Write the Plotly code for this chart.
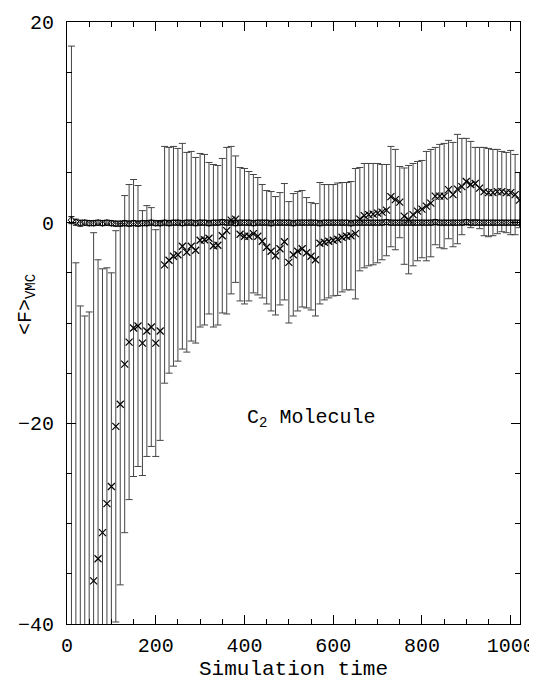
import plotly.graph_objects as go

# Simulation time of each sample
sim_time = [10, 20, 30, 40, 50, 60, 70, 80, 90, 100,
            110, 120, 130, 140, 150, 160, 170, 180, 190, 200,
            210, 220, 230, 240, 250, 260, 270, 280, 290, 300,
            310, 320, 330, 340, 350, 360, 370, 380, 390, 400,
            410, 420, 430, 440, 450, 460, 470, 480, 490, 500,
            510, 520, 530, 540, 550, 560, 570, 580, 590, 600,
            610, 620, 630, 640, 650, 660, 670, 680, 690, 700,
            710, 720, 730, 740, 750, 760, 770, 780, 790, 800,
            810, 820, 830, 840, 850, 860, 870, 880, 890, 900,
            910, 920, 930, 940, 950, 960, 970, 980, 990, 1000,
            1010, 1020]

# <F>_VMC without correction (crosses)
force_raw = [-60, -55, -50, -46, -42, -35.7, -33.5, -30.9, -28.0, -26.3,
             -20.3, -18.1, -14.1, -11.9, -10.5, -10.3, -12.0, -10.8, -10.4, -12.0,
             -10.8, -4.2, -3.75, -3.35, -3.2, -2.35, -2.95, -2.35, -2.75, -1.75,
             -1.7, -1.55, -2.3, -2.25, -1.3, -0.8, 0.25, 0.35, -1.15, -1.35,
             -1.35, -1.1, -1.35, -1.85, -2.45, -2.85, -3.3, -2.6, -1.9, -3.95,
             -3.2, -2.85, -2.6, -3.0, -3.35, -3.7, -2.05, -1.95, -1.85, -1.75,
             -1.65, -1.45, -1.35, -1.3, -1.1, 0.35, 0.7, 0.8, 0.85, 0.95,
             1.05, 1.25, 2.6, 2.3, 2.05, 0.65, 0.3, 0.8, 1.15, 1.35,
             1.65, 1.95, 2.65, 2.65, 2.65, 3.3, 2.8, 3.35, 3.6, 4.1,
             3.8, 3.9, 3.45, 3.1, 3.0, 3.0, 3.1, 3.1, 3.0, 3.0,
             2.8, 2.25]

force_raw_err = [77.6, 51.0, 41.7, 36.7, 33.1, 34.7, 29.8, 26.3, 23.5, 21.3,
                 19.5, 18.0, 16.8, 15.7, 14.8, 14.0, 13.2, 12.5, 11.9, 11.3,
                 10.9, 11.8, 11.25, 10.95, 10.6, 10.25, 9.95, 9.45, 9.25, 8.65,
                 8.5, 7.55, 8.1, 7.95, 7.7, 8.3, 7.35, 6.3, 6.65, 6.75,
                 6.45, 5.9, 5.85, 5.65, 5.65, 5.95, 5.9, 5.6, 5.8, 6.05,
                 6.1, 5.95, 5.8, 5.5, 5.35, 5.6, 6.05, 5.75, 5.65, 5.55,
                 5.6, 5.45, 5.35, 5.4, 6.5, 5.15, 5.2, 5.1, 5.05, 4.95,
                 4.75, 4.55, 5.0, 5.0, 3.55, 4.8, 5.4, 5.1, 4.95, 4.85,
                 5.45, 5.35, 4.85, 5.15, 5.25, 4.9, 5.2, 5.45, 4.8, 4.3,
                 4.3, 3.6, 4.05, 4.4, 4.4, 4.3, 4.2, 4.0, 4.0, 4.2,
                 4.0, 2.75]

# <F>_VMC with correction (diamonds near zero)
force_corr = [0.25, 0.05, -0.05, 0.0, -0.05, -0.05, 0.0, -0.05, 0.0, -0.05,
              -0.1, -0.1, -0.05, -0.1, -0.05, -0.1, -0.05, -0.05, 0.0, -0.05,
              -0.05, 0.0, -0.05, 0.0, 0.0, -0.05, 0.0, 0.0, -0.05, 0.0,
              0.0, -0.05, 0.0, 0.0, 0.05, 0.0, 0.0, -0.05, 0.0, 0.0,
              0.0, -0.05, 0.0, 0.0, 0.0, -0.05, 0.0, 0.0, 0.0, 0.0,
              -0.05, 0.0, 0.0, 0.0, 0.0, 0.0, -0.05, 0.0, 0.0, 0.0,
              0.0, 0.0, 0.0, -0.05, 0.0, 0.0, 0.0, 0.0, 0.0, 0.0,
              0.0, 0.05, 0.0, 0.0, 0.0, 0.0, 0.0, 0.0, 0.0, 0.0,
              0.0, 0.0, 0.05, 0.0, 0.0, 0.0, 0.0, 0.0, 0.0, 0.05,
              0.0, 0.0, 0.0, 0.0, 0.0, 0.0, 0.0, 0.0, 0.0, 0.0,
              0.0, 0.0]

force_corr_err = [0.35, 0.3, 0.3, 0.25, 0.25, 0.25, 0.25, 0.25, 0.25, 0.25,
                  0.25, 0.25, 0.25, 0.25, 0.25, 0.25, 0.25, 0.25, 0.25, 0.25,
                  0.25, 0.25, 0.25, 0.25, 0.25, 0.25, 0.25, 0.25, 0.25, 0.25,
                  0.25, 0.25, 0.25, 0.25, 0.25, 0.25, 0.25, 0.25, 0.25, 0.25,
                  0.25, 0.25, 0.25, 0.25, 0.25, 0.25, 0.25, 0.25, 0.25, 0.25,
                  0.25, 0.25, 0.25, 0.25, 0.25, 0.25, 0.25, 0.25, 0.25, 0.25,
                  0.25, 0.25, 0.25, 0.25, 0.25, 0.25, 0.25, 0.25, 0.25, 0.25,
                  0.25, 0.25, 0.25, 0.25, 0.25, 0.25, 0.25, 0.25, 0.25, 0.25,
                  0.25, 0.25, 0.25, 0.25, 0.25, 0.25, 0.25, 0.25, 0.25, 0.25,
                  0.25, 0.25, 0.25, 0.25, 0.25, 0.25, 0.25, 0.25, 0.25, 0.25,
                  0.25, 0.25]

x_ticks = [0, 200, 400, 600, 800, 1000]
y_ticks = [-40, -20, 0, 20]

FONT = "Liberation Mono"

fig = go.Figure()

fig.add_trace(go.Scatter(
    x=sim_time, y=force_raw, mode="markers",
    marker=dict(symbol="x-thin-open", size=7, color="black",
                line=dict(width=1.2, color="black")),
    error_y=dict(type="data", array=force_raw_err, visible=True,
                 color="#444444", thickness=1, width=3.5),
    cliponaxis=True, showlegend=False,
))

fig.add_trace(go.Scatter(
    x=sim_time, y=force_corr, mode="markers",
    marker=dict(symbol="diamond-open", size=5, color="black",
                line=dict(width=1, color="black")),
    error_y=dict(type="data", array=force_corr_err, visible=True,
                 color="black", thickness=1, width=3),
    showlegend=False,
))

axis_common = dict(
    showline=True, linecolor="black", linewidth=1, mirror="ticks",
    ticks="inside", ticklen=9, tickwidth=1, tickcolor="black",
    showgrid=False, zeroline=False, automargin=False,
    tickfont=dict(family=FONT, size=20, color="black"),
)

fig.update_xaxes(
    range=[0, 1021], tickvals=x_ticks, ticktext=[str(v) for v in x_ticks],
    minor=dict(dtick=50, tick0=0, ticks="inside", ticklen=5, tickcolor="black", showgrid=False),
    ticklabelstandoff=3,
    **axis_common,
)
fig.update_yaxes(
    range=[-40, 20], tickvals=y_ticks,
    ticktext=["\u221240", "\u221220", "0", "20"],
    minor=dict(dtick=5, tick0=0, ticks="inside", ticklen=5, tickcolor="black", showgrid=False),
    ticklabelstandoff=8,
    **axis_common,
)

fig.add_annotation(
    text="Simulation time", xref="paper", yref="paper", x=0.5, y=-0.076,
    xanchor="center", yanchor="middle", showarrow=False,
    font=dict(family=FONT, size=21, color="black"),
)
fig.add_annotation(
    text="&lt;F&gt;<sub>VMC</sub>", xref="paper", yref="paper",
    x=-0.088, y=0.53, xanchor="center", yanchor="middle", textangle=-90,
    showarrow=False, font=dict(family=FONT, size=20, color="black"),
)
fig.add_annotation(
    text="C<sub>2</sub> Molecule", xref="x", yref="y", x=550, y=-19.5,
    xanchor="center", yanchor="middle", showarrow=False,
    font=dict(family=FONT, size=20, color="black"),
)

fig.update_layout(
    width=537, height=680,
    margin=dict(l=59, r=25, t=14, b=64, autoexpand=False),
    paper_bgcolor="white", plot_bgcolor="white",
)

fig.write_html("out.html")
